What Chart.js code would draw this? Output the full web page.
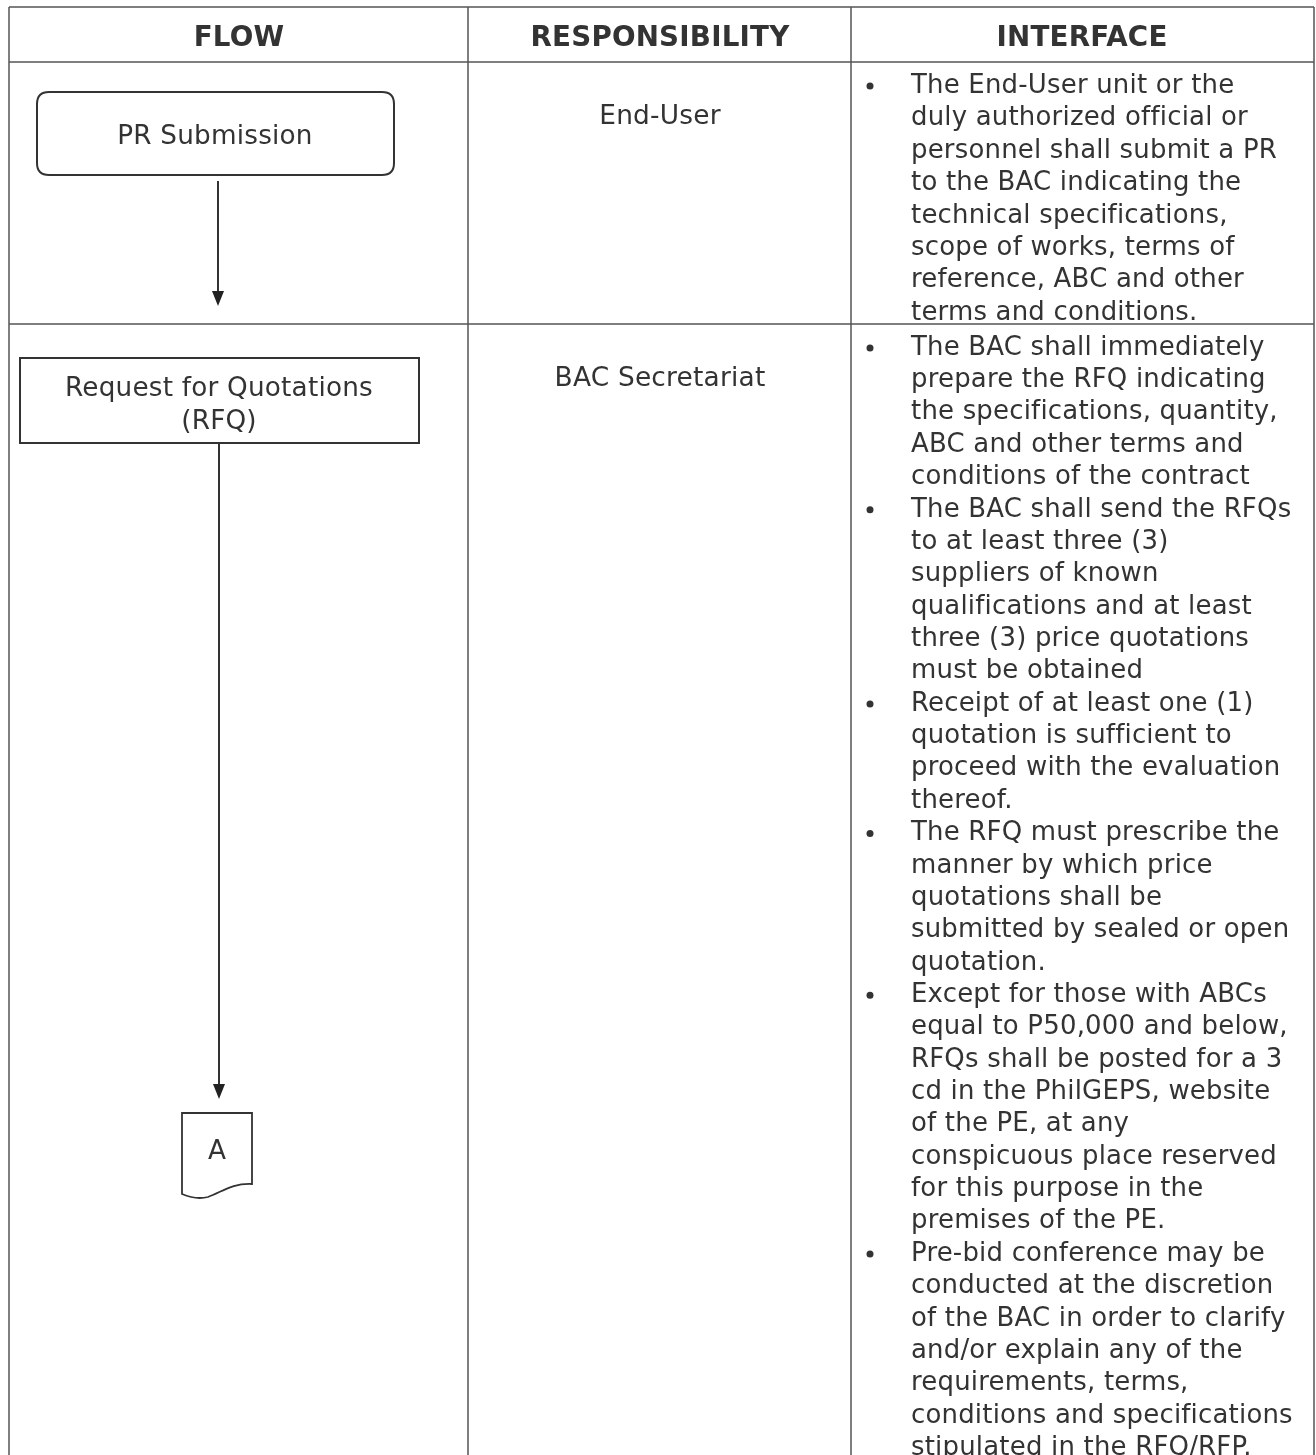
<!DOCTYPE html>
<html><head><meta charset="utf-8">
<script src="https://cdn.jsdelivr.net/npm/chart.js@4/dist/chart.umd.min.js"></script>
<style>html,body{margin:0;padding:0;background:#fff;}canvas{display:block;}</style>
</head><body>
<canvas id="c" width="1316" height="1455"></canvas>
<script>
const headers = ["FLOW", "RESPONSIBILITY", "INTERFACE"];
const flowSteps = [["PR Submission"], ["Request for Quotations", "(RFQ)"]];
const connectorLabel = "A";
const responsibilities = ["End-User", "BAC Secretariat"];
const interfaceRow1 = [
  ["The End-User unit or the", "duly authorized official or", "personnel shall submit a PR", "to the BAC indicating the", "technical specifications,", "scope of works, terms of", "reference, ABC and other", "terms and conditions."]
];
const interfaceRow2 = [
  ["The BAC shall immediately", "prepare the RFQ indicating", "the specifications, quantity,", "ABC and other terms and", "conditions of the contract"],
  ["The BAC shall send the RFQs", "to at least three (3)", "suppliers of known", "qualifications and at least", "three (3) price quotations", "must be obtained"],
  ["Receipt of at least one (1)", "quotation is sufficient to", "proceed with the evaluation", "thereof."],
  ["The RFQ must prescribe the", "manner by which price", "quotations shall be", "submitted by sealed or open", "quotation."],
  ["Except for those with ABCs", "equal to P50,000 and below,", "RFQs shall be posted for a 3", "cd in the PhilGEPS, website", "of the PE, at any", "conspicuous place reserved", "for this purpose in the", "premises of the PE."],
  ["Pre-bid conference may be", "conducted at the discretion", "of the BAC in order to clarify", "and/or explain any of the", "requirements, terms,", "conditions and specifications", "stipulated in the RFQ/RFP."]
];

const FONT = '"DejaVu Sans", Verdana, sans-serif';
const INK = '#333';
const RULE = '#555';
const DY = 3;
const LS = 0.2;

function fitSize(ctx, text, target, weight) {
  try { ctx.letterSpacing = '0px'; } catch (e) {}
  ctx.font = weight + ' 100px ' + FONT;
  const s = 100 * (target - text.length * LS) / ctx.measureText(text).width;
  try { ctx.letterSpacing = LS + 'px'; } catch (e) {}
  return s;
}

const drawPlugin = {
  id: 'flowTable',
  afterDraw(chart) {
    const ctx = chart.ctx;
    const xs = chart.scales.x, ys = chart.scales.y;
    const X = v => xs.getPixelForValue(v), Y = v => ys.getPixelForValue(v);
    ctx.save();
    ctx.fillStyle = '#fff';
    ctx.fillRect(0, 0, chart.width, chart.height);

    ctx.strokeStyle = RULE; ctx.lineWidth = 1.5;
    const colX = [9, 468, 851, 1314];
    const rowY = [7, 62, 324];
    ctx.beginPath();
    colX.forEach(cx => { ctx.moveTo(X(cx), Y(7)); ctx.lineTo(X(cx), Y(1455)); });
    rowY.forEach(ry => { ctx.moveTo(X(9), Y(ry)); ctx.lineTo(X(1314), Y(ry)); });
    ctx.stroke();

    ctx.textAlign = 'center'; ctx.textBaseline = 'middle'; ctx.fillStyle = INK;
    const hs = fitSize(ctx, headers[1], 259, 'bold');
    ctx.font = 'bold ' + hs.toFixed(2) + 'px ' + FONT;
    const hx = [239, 660, 1082];
    headers.forEach((h, i) => ctx.fillText(h, X(hx[i]), Y(36 + DY)));

    const rs = fitSize(ctx, responsibilities[1], 211, 'normal');
    ctx.font = rs.toFixed(2) + 'px ' + FONT;
    ctx.fillText(responsibilities[0], X(660), Y(114 + DY));
    ctx.fillText(responsibilities[1], X(660), Y(376 + DY));

    ctx.strokeStyle = '#333'; ctx.lineWidth = 2;
    const bx0 = X(37), by0 = Y(92), bx1 = X(394), by1 = Y(175), r = 12;
    ctx.beginPath();
    ctx.moveTo(bx0 + r, by0); ctx.lineTo(bx1 - r, by0); ctx.quadraticCurveTo(bx1, by0, bx1, by0 + r);
    ctx.lineTo(bx1, by1 - r); ctx.quadraticCurveTo(bx1, by1, bx1 - r, by1);
    ctx.lineTo(bx0 + r, by1); ctx.quadraticCurveTo(bx0, by1, bx0, by1 - r);
    ctx.lineTo(bx0, by0 + r); ctx.quadraticCurveTo(bx0, by0, bx0 + r, by0);
    ctx.stroke();
    const fs = fitSize(ctx, flowSteps[1][0], 308, 'normal');
    ctx.font = fs.toFixed(2) + 'px ' + FONT;
    ctx.fillText(flowSteps[0][0], X(215), Y(134 + DY));
    ctx.strokeRect(X(20), Y(358), X(419) - X(20), Y(443) - Y(358));
    ctx.fillText(flowSteps[1][0], X(219), Y(386 + DY));
    ctx.fillText(flowSteps[1][1], X(219), Y(419 + DY));

    function arrow(x, y0, y1) {
      ctx.beginPath(); ctx.moveTo(X(x), Y(y0)); ctx.lineTo(X(x), Y(y1 - 10)); ctx.stroke();
      ctx.beginPath(); ctx.moveTo(X(x - 6), Y(y1 - 15)); ctx.lineTo(X(x + 6), Y(y1 - 15)); ctx.lineTo(X(x), Y(y1)); ctx.closePath(); ctx.fill();
    }
    ctx.fillStyle = '#222';
    arrow(218, 181, 306);
    arrow(219, 443, 1099);

    ctx.lineWidth = 1.8;
    ctx.beginPath();
    ctx.moveTo(X(182), Y(1113)); ctx.lineTo(X(252), Y(1113)); ctx.lineTo(X(252), Y(1184));
    ctx.bezierCurveTo(X(232), Y(1183), X(222), Y(1192), X(208), Y(1197));
    ctx.quadraticCurveTo(X(196), Y(1200), X(182), Y(1194));
    ctx.closePath(); ctx.stroke();
    ctx.fillStyle = INK;
    ctx.fillText(connectorLabel, X(217), Y(1149 + DY));

    const is = fitSize(ctx, interfaceRow2[5][5], 382, 'normal');
    ctx.font = is.toFixed(2) + 'px ' + FONT;
    ctx.textAlign = 'left';
    function bullets(groups, startY, step) {
      let y = startY;
      groups.forEach(g => {
        ctx.beginPath(); ctx.arc(X(870), Y(y + 3), 3.5, 0, Math.PI * 2); ctx.fill();
        g.forEach(line => { ctx.fillText(line, X(911), Y(y + DY)); y += step; });
      });
    }
    bullets(interfaceRow1, 83, 32.45);
    bullets(interfaceRow2, 345, 32.36);
    ctx.restore();
  }
};

new Chart(document.getElementById('c'), {
  type: 'scatter',
  data: { datasets: [{ data: [] }] },
  options: {
    responsive: false, animation: false, devicePixelRatio: 1,
    layout: { padding: 0 },
    plugins: { legend: { display: false }, tooltip: { enabled: false } },
    scales: {
      x: { type: 'linear', min: 0, max: 1316, display: false },
      y: { type: 'linear', min: 0, max: 1455, reverse: true, display: false }
    }
  },
  plugins: [drawPlugin]
});
</script>
</body></html>
